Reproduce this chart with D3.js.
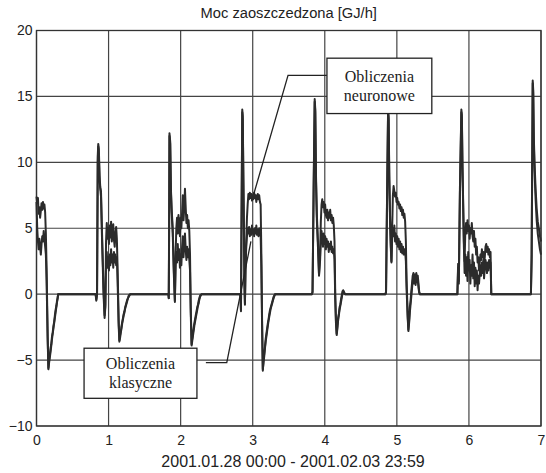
<!DOCTYPE html>
<html>
<head>
<meta charset="utf-8">
<script src="https://cdn.jsdelivr.net/npm/d3@7"></script>
<style>
  body { margin: 0; background: #fff; }
  svg text { font-family: "Liberation Sans", Arial, sans-serif; fill: #222; }
  .note text { font-family: "Liberation Serif", "Times New Roman", serif; }
</style>
</head>
<body>
<div id="chart"></div>
<script>
// Moc zaoszczedzona - obliczenia neuronowe vs klasyczne
var svgWidth = 546;
var svgHeight = 473;

var margin = { top: 30.5, right: 5, bottom: 47, left: 36.5 };
var width = svgWidth - margin.left - margin.right;
var height = svgHeight - margin.top - margin.bottom;

var title = "Moc zaoszczedzona [GJ/h]";
var xTitle = "2001.01.28 00:00 - 2001.02.03 23:59";
var xTicks = [0, 1, 2, 3, 4, 5, 6, 7];
var yTicks = [-10, -5, 0, 5, 10, 15, 20];

// [dzien, GJ/h]
var neuronowe = [
  [0.00,7.4],[0.01,6.9],[0.02,7.3],[0.03,6.1],[0.04,6.6],[0.05,5.8],[0.06,6.3],[0.07,6.9],[0.08,6.4],[0.09,7.0],
  [0.10,6.5],[0.11,6.8],[0.12,6.2],[0.13,4.6],[0.14,2.0],[0.155,-3.2],[0.165,-5.6],[0.175,-5.0],[0.185,-4.6],
  [0.195,-4.1],[0.205,-3.8],[0.215,-3.2],[0.225,-2.9],[0.235,-2.4],[0.245,-2.1],[0.255,-1.6],[0.265,-1.2],
  [0.275,-0.9],[0.285,-0.5],[0.295,-0.2],[0.30,0],
  [0.82,0],[0.83,-0.4],[0.84,0],[0.85,10.5],[0.857,11.4],[0.865,11.0],[0.875,9.0],[0.885,8.1],[0.895,7.8],
  [0.91,4.5],[0.93,0.5],[0.945,-1.6],[0.955,-0.8],[0.965,4.0],[0.975,5.4],[0.985,4.2],[0.995,5.0],[1.005,3.8],
  [1.015,5.2],[1.025,4.3],[1.035,5.5],[1.045,4.0],[1.055,4.8],[1.065,5.3],[1.075,4.1],[1.085,3.6],[1.095,4.6],
  [1.105,5.1],[1.115,4.2],[1.125,2.0],[1.14,-2.0],[1.15,-3.5],[1.16,-3.1],[1.17,-2.8],[1.18,-2.4],[1.19,-2.1],
  [1.20,-1.8],[1.21,-1.5],[1.22,-1.3],[1.23,-1.0],[1.24,-0.8],[1.25,-0.6],[1.26,-0.4],[1.27,-0.3],[1.28,-0.1],[1.30,0],
  [1.83,0],[1.835,-0.3],[1.84,5.0],[1.845,12.2],[1.855,11.6],[1.865,8.0],[1.875,6.5],[1.89,5.0],[1.905,2.0],
  [1.92,-0.5],[1.93,3.0],[1.94,5.0],[1.95,5.8],[1.96,4.6],[1.97,6.0],[1.98,5.2],[1.99,4.4],[2.00,5.8],[2.01,5.0],
  [2.02,6.2],[2.03,7.5],[2.04,5.6],[2.05,6.6],[2.06,8.0],[2.07,6.6],[2.08,5.4],[2.09,6.0],[2.10,5.0],[2.11,5.6],
  [2.12,4.8],[2.13,3.0],[2.14,-1.0],[2.152,-3.8],[2.16,-3.4],[2.17,-3.0],[2.18,-2.6],[2.19,-2.2],[2.20,-1.9],
  [2.21,-1.6],[2.22,-1.3],[2.23,-1.0],[2.24,-0.8],[2.25,-0.5],[2.26,-0.3],[2.27,-0.1],[2.29,0],
  [2.83,0],[2.837,-1.3],[2.845,6.0],[2.855,14.0],[2.862,13.5],[2.87,9.0],[2.878,5.0],[2.885,1.0],[2.892,-0.7],
  [2.90,2.0],[2.91,4.0],[2.92,5.8],[2.93,6.8],[2.94,7.6],[2.95,7.2],[2.96,7.7],[2.97,7.3],[2.98,7.6],[2.99,7.1],
  [3.00,7.5],[3.01,7.2],[3.02,7.7],[3.03,7.3],[3.04,7.5],[3.05,7.0],[3.06,7.4],[3.07,7.6],[3.08,7.2],[3.09,7.5],
  [3.10,7.0],[3.11,6.8],[3.12,3.0],[3.13,-2.0],[3.14,-5.8],[3.15,-5.0],[3.16,-4.5],[3.17,-4.0],[3.18,-3.4],
  [3.19,-3.0],[3.20,-2.6],[3.21,-2.2],[3.22,-1.9],[3.23,-1.5],[3.24,-1.2],[3.25,-1.0],[3.26,-0.8],[3.27,-0.6],
  [3.28,-0.4],[3.29,-0.2],[3.31,0],
  [3.82,0],[3.83,0.2],[3.845,8.0],[3.86,14.8],[3.868,14.0],[3.878,9.0],[3.89,6.0],[3.905,4.0],[3.92,1.5],
  [3.935,3.0],[3.945,5.5],[3.955,6.8],[3.965,7.2],[3.975,6.6],[3.985,7.0],[3.995,6.2],[4.005,6.8],[4.015,6.0],
  [4.025,5.8],[4.035,6.4],[4.045,5.6],[4.055,6.2],[4.065,5.8],[4.075,6.4],[4.085,5.6],[4.095,6.0],[4.105,5.4],
  [4.115,5.8],[4.125,5.2],[4.135,4.0],[4.145,0.0],[4.155,-2.0],[4.165,-3.0],[4.175,-2.4],[4.185,-1.8],[4.195,-1.5],
  [4.205,-1.0],[4.215,-0.8],[4.225,-0.4],[4.235,-0.1],[4.245,0.2],[4.255,0.3],[4.265,0.2],[4.28,0],
  [4.84,0],[4.85,0.2],[4.865,8.0],[4.878,13.9],[4.886,13.5],[4.895,9.0],[4.905,6.0],[4.915,4.0],[4.925,2.5],
  [4.935,5.0],[4.945,7.5],[4.955,8.2],[4.965,7.8],[4.975,7.4],[4.985,7.7],[4.995,7.0],[5.005,7.3],[5.015,6.8],
  [5.025,7.0],[5.035,6.5],[5.045,6.8],[5.055,6.3],[5.065,6.6],[5.075,6.0],[5.085,6.4],[5.095,5.8],[5.105,6.1],
  [5.115,5.5],[5.125,4.0],[5.135,1.0],[5.15,-1.5],[5.16,-2.8],[5.17,-2.0],[5.18,-1.0],[5.19,-0.5],[5.20,0.2],
  [5.21,0.8],[5.22,1.4],[5.23,1.6],[5.24,1.2],[5.25,1.5],[5.26,1.0],[5.27,1.6],[5.28,1.2],[5.29,1.4],[5.30,0.8],
  [5.31,0.2],[5.32,0],
  [5.84,0],[5.85,2.3],[5.86,1.0],[5.875,8.0],[5.895,14.0],[5.902,13.6],[5.91,10.0],[5.92,7.0],[5.93,4.0],
  [5.94,2.5],[5.95,4.8],[5.96,5.4],[5.97,4.6],[5.98,5.6],[5.99,4.8],[6.00,5.2],[6.01,4.2],[6.02,5.0],[6.03,4.6],
  [6.04,5.4],[6.05,4.4],[6.06,4.0],[6.07,4.8],[6.08,3.6],[6.09,4.2],[6.10,3.0],[6.11,3.6],[6.12,2.4],[6.13,2.8],
  [6.14,1.8],[6.15,2.4],[6.16,3.0],[6.17,2.6],[6.18,3.4],[6.19,2.8],[6.20,3.2],[6.21,2.4],[6.22,2.8],[6.23,3.6],
  [6.24,3.8],[6.25,3.2],[6.26,3.6],[6.27,3.0],[6.28,3.4],[6.29,2.8],[6.30,3.2],[6.31,0],
  [6.86,0],[6.87,3.0],[6.885,16.2],[6.892,15.5],[6.90,12.0],[6.91,10.0],[6.925,8.0],[6.94,6.5],[6.955,5.5],
  [6.97,5.0],[6.985,4.4],[7.00,4.0]
];

var klasyczne = [
  [0.00,7.0],[0.01,5.0],[0.02,4.0],[0.03,3.4],[0.04,4.2],[0.05,3.6],[0.06,3.0],[0.07,3.8],[0.08,4.4],[0.09,4.0],
  [0.10,4.8],[0.11,4.2],[0.12,3.6],[0.13,3.0],[0.14,1.0],[0.155,-3.5],[0.165,-5.7],[0.175,-5.2],[0.185,-4.8],
  [0.195,-4.4],[0.205,-3.9],[0.215,-3.4],[0.225,-3.0],[0.235,-2.6],[0.245,-2.2],[0.255,-1.8],[0.265,-1.4],
  [0.275,-1.0],[0.285,-0.6],[0.295,-0.3],[0.30,0],
  [0.82,0],[0.83,-0.5],[0.84,0],[0.85,10.0],[0.857,11.2],[0.865,10.6],[0.875,8.6],[0.885,8.0],[0.895,7.4],
  [0.91,4.0],[0.93,0.0],[0.945,-1.8],[0.955,-1.0],[0.965,2.4],[0.975,3.2],[0.985,2.0],[0.995,2.8],[1.005,1.8],
  [1.015,3.0],[1.025,2.2],[1.035,3.4],[1.045,2.4],[1.055,3.0],[1.065,2.0],[1.075,3.2],[1.085,2.4],[1.095,3.0],
  [1.105,2.2],[1.115,2.8],[1.125,1.0],[1.14,-2.4],[1.15,-3.6],[1.16,-3.3],[1.17,-2.9],[1.18,-2.6],[1.19,-2.2],
  [1.20,-1.9],[1.21,-1.6],[1.22,-1.4],[1.23,-1.1],[1.24,-0.9],[1.25,-0.7],[1.26,-0.5],[1.27,-0.3],[1.28,-0.2],[1.30,0],
  [1.83,0],[1.835,-0.3],[1.84,4.5],[1.845,12.0],[1.855,11.4],[1.865,7.8],[1.875,6.2],[1.89,4.6],[1.905,1.6],
  [1.92,-0.6],[1.93,2.0],[1.94,3.2],[1.95,2.4],[1.96,3.8],[1.97,2.6],[1.98,3.4],[1.99,2.0],[2.00,3.0],[2.01,2.2],
  [2.02,3.6],[2.03,4.4],[2.04,2.8],[2.05,3.8],[2.06,4.6],[2.07,3.4],[2.08,2.6],[2.09,3.6],[2.10,2.8],[2.11,3.4],
  [2.12,2.6],[2.13,1.8],[2.14,-1.4],[2.152,-3.9],[2.16,-3.6],[2.17,-3.2],[2.18,-2.8],[2.19,-2.4],[2.20,-2.1],
  [2.21,-1.8],[2.22,-1.5],[2.23,-1.2],[2.24,-0.9],[2.25,-0.7],[2.26,-0.4],[2.27,-0.2],[2.29,0],
  [2.83,0],[2.837,-1.2],[2.845,5.5],[2.855,13.8],[2.862,13.2],[2.87,8.6],[2.878,4.6],[2.885,0.8],[2.892,-0.8],
  [2.90,1.8],[2.91,3.6],[2.92,4.4],[2.93,5.0],[2.94,4.6],[2.95,5.1],[2.96,4.4],[2.97,4.9],[2.98,4.5],[2.99,5.2],
  [3.00,4.6],[3.01,4.9],[3.02,4.4],[3.03,5.0],[3.04,4.6],[3.05,5.2],[3.06,4.5],[3.07,4.9],[3.08,4.4],[3.09,5.0],
  [3.10,4.6],[3.11,4.4],[3.12,2.0],[3.13,-2.4],[3.14,-5.7],[3.15,-5.2],[3.16,-4.7],[3.17,-4.1],[3.18,-3.6],
  [3.19,-3.2],[3.20,-2.8],[3.21,-2.4],[3.22,-2.0],[3.23,-1.7],[3.24,-1.4],[3.25,-1.1],[3.26,-0.9],[3.27,-0.7],
  [3.28,-0.5],[3.29,-0.3],[3.31,0],
  [3.82,0],[3.83,0.1],[3.845,7.6],[3.86,14.6],[3.868,13.8],[3.878,8.6],[3.89,5.6],[3.905,3.6],[3.92,1.4],
  [3.935,2.6],[3.945,4.0],[3.955,4.8],[3.965,4.2],[3.975,3.6],[3.985,4.6],[3.995,3.8],[4.005,4.4],[4.015,3.4],
  [4.025,4.2],[4.035,3.6],[4.045,4.0],[4.055,3.2],[4.065,3.8],[4.075,3.4],[4.085,4.0],[4.095,3.2],[4.105,3.6],
  [4.115,3.1],[4.125,3.4],[4.135,2.6],[4.145,-0.4],[4.155,-2.2],[4.165,-3.1],[4.175,-2.6],[4.185,-2.0],[4.195,-1.6],
  [4.205,-1.2],[4.215,-0.9],[4.225,-0.6],[4.235,-0.3],[4.245,0.0],[4.255,0.2],[4.265,0.1],[4.28,0],
  [4.84,0],[4.85,0.1],[4.865,7.6],[4.878,13.7],[4.886,13.2],[4.895,8.6],[4.905,5.6],[4.915,3.6],[4.925,2.4],
  [4.935,4.2],[4.945,5.0],[4.955,4.4],[4.965,5.2],[4.975,4.0],[4.985,4.6],[4.995,3.8],[5.005,4.4],[5.015,3.6],
  [5.025,4.2],[5.035,3.4],[5.045,4.0],[5.055,3.2],[5.065,3.8],[5.075,3.1],[5.085,3.6],[5.095,3.0],[5.105,3.4],
  [5.115,3.2],[5.125,2.5],[5.135,0.4],[5.15,-1.8],[5.16,-2.7],[5.17,-2.2],[5.18,-1.4],[5.19,-0.8],[5.20,-0.2],
  [5.21,0.4],[5.22,1.0],[5.23,1.3],[5.24,0.8],[5.25,1.2],[5.26,0.7],[5.27,1.3],[5.28,0.9],[5.29,1.1],[5.30,0.5],
  [5.31,0.1],[5.32,0],
  [5.84,0],[5.85,2.0],[5.86,0.8],[5.875,7.6],[5.895,13.8],[5.902,13.3],[5.91,9.6],[5.92,6.6],[5.93,3.6],
  [5.94,1.6],[5.95,3.0],[5.96,1.4],[5.97,2.8],[5.98,1.0],[5.99,3.2],[6.00,1.8],[6.01,2.6],[6.02,0.8],[6.03,2.2],
  [6.04,1.4],[6.05,3.0],[6.06,1.2],[6.07,2.4],[6.08,0.6],[6.09,2.0],[6.10,0.8],[6.11,1.8],[6.12,0.3],[6.13,1.4],
  [6.14,0.8],[6.15,1.6],[6.16,2.2],[6.17,1.4],[6.18,2.4],[6.19,1.6],[6.20,2.6],[6.21,1.2],[6.22,2.0],[6.23,2.6],
  [6.24,2.2],[6.25,1.6],[6.26,2.4],[6.27,1.8],[6.28,2.6],[6.29,2.0],[6.30,2.4],[6.31,0],
  [6.86,0],[6.87,2.6],[6.885,16.0],[6.892,15.2],[6.90,11.6],[6.91,9.4],[6.925,7.2],[6.94,5.6],[6.955,4.6],
  [6.97,4.0],[6.985,3.4],[7.00,3.0]
];

// opisy: [x0, x1, y gorny, y dolny] oraz linie odnosnikow w jednostkach danych
var noteNeuro = { text: ["Obliczenia", "neuronowe"], box: [4.03, 5.485, 17.9, 13.7], leader: [[4.03, 16.6], [3.49, 16.6], [3.015, 7.6]] };
var noteKlas = { text: ["Obliczenia", "klasyczne"], box: [0.66, 2.226, -4.1, -7.9], leader: [[2.35, -5.2], [2.64, -5.2], [2.975, 4.0]] };

var svg = d3.select("#chart")
  .append("svg")
  .attr("width", svgWidth)
  .attr("height", svgHeight);

var chartGroup = svg.append("g")
  .attr("transform", `translate(${margin.left}, ${margin.top})`);

var xScale = d3.scaleLinear().domain([0, 7]).range([0, width]);
var yScale = d3.scaleLinear().domain([-10, 20]).range([height, 0]);

// siatka
chartGroup.append("g")
  .selectAll("line")
  .data(xTicks)
  .enter()
  .append("line")
  .attr("x1", d => xScale(d)).attr("x2", d => xScale(d))
  .attr("y1", 0).attr("y2", height)
  .attr("stroke", "#444")
  .attr("stroke-width", 1.2);

chartGroup.append("g")
  .selectAll("line")
  .data(yTicks)
  .enter()
  .append("line")
  .attr("x1", 0).attr("x2", width)
  .attr("y1", d => yScale(d)).attr("y2", d => yScale(d))
  .attr("stroke", "#444")
  .attr("stroke-width", 1.2);

chartGroup.append("rect")
  .attr("width", width)
  .attr("height", height)
  .attr("fill", "none")
  .attr("stroke", "#333")
  .attr("stroke-width", 1.3);

// osie
var bottomAxis = d3.axisBottom(xScale).tickValues(xTicks).tickFormat(d3.format("d")).tickSize(0).tickPadding(9);
var leftAxis = d3.axisLeft(yScale).tickValues(yTicks).tickFormat(d3.format("d")).tickSize(0).tickPadding(4);

var xg = chartGroup.append("g")
  .attr("transform", `translate(0, ${height})`)
  .call(bottomAxis);
var yg = chartGroup.append("g").call(leftAxis);

[xg, yg].forEach(function(g) {
  g.select(".domain").remove();
  g.selectAll("text")
    .style("font-size", "14px")
    .style("font-family", "'Liberation Sans', Arial, sans-serif")
    .attr("fill", "#222");
});

// serie
var line = d3.line()
  .x(d => xScale(d[0]))
  .y(d => yScale(d[1]));

[klasyczne, neuronowe].forEach(function(series) {
  chartGroup.append("path")
    .datum(series)
    .attr("d", line)
    .attr("fill", "none")
    .attr("stroke", "#2b2b2b")
    .attr("stroke-width", 2)
    .attr("stroke-linejoin", "round");
});

// opisy
[noteNeuro, noteKlas].forEach(function(note) {
  var g = chartGroup.append("g").attr("class", "note");
  g.append("path")
    .datum(note.leader)
    .attr("d", line)
    .attr("fill", "none")
    .attr("stroke", "#222")
    .attr("stroke-width", 1.3);
  var bx0 = xScale(note.box[0]), bx1 = xScale(note.box[1]);
  var by0 = yScale(note.box[2]), by1 = yScale(note.box[3]);
  g.append("rect")
    .attr("x", bx0).attr("y", by0)
    .attr("width", bx1 - bx0).attr("height", by1 - by0)
    .attr("fill", "#fff")
    .attr("stroke", "#222")
    .attr("stroke-width", 1.3);
  g.selectAll("text.l")
    .data(note.text)
    .enter()
    .append("text")
    .attr("x", (bx0 + bx1) / 2)
    .attr("y", (d, i) => (by0 + by1) / 2 - 4 + i * 19)
    .attr("text-anchor", "middle")
    .style("font-size", "16px")
    .text(d => d);
});

// tytuly
svg.append("text")
  .attr("x", margin.left + width / 2)
  .attr("y", 18)
  .attr("text-anchor", "middle")
  .style("font-size", "14.7px")
  .text(title);

svg.append("text")
  .attr("x", 293)
  .attr("y", 467)
  .attr("text-anchor", "middle")
  .style("font-size", "16px")
  .text(xTitle);
</script>
</body>
</html>
